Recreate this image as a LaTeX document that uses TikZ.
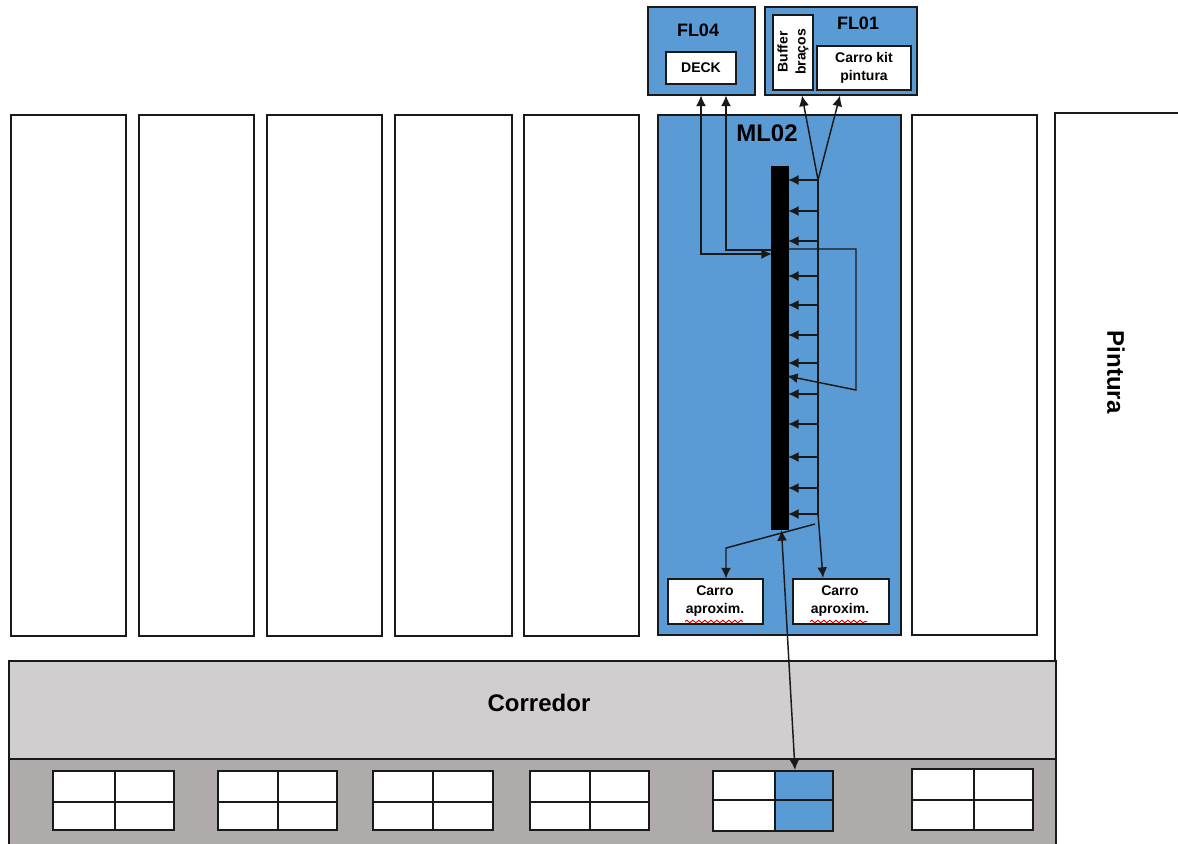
\documentclass[tikz,border=0pt]{standalone}
\usepackage{fontspec}
\setmainfont{Liberation Sans}
\usetikzlibrary{arrows.meta,calc,decorations.pathmorphing}
\definecolor{mlblue}{HTML}{5B9BD5}
\definecolor{corr}{HTML}{D0CECE}
\definecolor{band}{HTML}{AFABAB}
\newcommand{\pxbox}[7][]{%
  \pgfmathsetmacro{\pxw}{(#5-#3)*0.75}%
  \pgfmathsetmacro{\pxh}{(#6-#4)*0.75}%
  \pgfmathsetmacro{\pxx}{(#3+#5)/2}%
  \pgfmathsetmacro{\pxy}{(#4+#6)/2}%
  \node[plainbox,#1,minimum width=\pxw pt,minimum height=\pxh pt] (#2) at (\pxx,\pxy) {#7};}
\newcommand{\pxgrid}[7]{% name x1 y1 x2 y2 xm ym
  \fill[white] (#2,#3) rectangle (#4,#5);
  \draw[gridline] (#2,#3) rectangle (#4,#5) (#6,#3) -- (#6,#5) (#2,#7) -- (#4,#7);
  \coordinate (#1) at (#6,#7);}
\tikzset{
  x=0.75pt,y=-0.75pt,
  plainbox/.style={draw=black!90,line width=1.1pt,fill=white,inner sep=0pt,outer sep=0pt,align=center,text=black},
  bluebox/.style={fill=mlblue},
  gridline/.style={draw=black!90,line width=1.2pt},
  conn/.style={draw=black!90,line width=1.1pt},
  arr/.style={conn,-{Latex[length=8pt,width=7.5pt]}},
  darr/.style={conn,{Latex[length=8pt,width=7.5pt]}-{Latex[length=8pt,width=7.5pt]}},
  big/.style={font=\bfseries\fontsize{18}{20}\selectfont},
  mid/.style={font=\bfseries\fontsize{13.5}{15}\selectfont},
  small/.style={font=\bfseries\fontsize{10.5}{13.5}\selectfont},
  lab/.style={font=\bfseries\fontsize{10.5}{14}\selectfont,align=center},
  squig/.style={draw=red!85!black,line width=0.7pt,decorate,decoration={snake,amplitude=1pt,segment length=4.5pt}}
}
\begin{document}
\begin{tikzpicture}
\clip (0,0) rectangle (1178,843);
\fill[white] (0,0) rectangle (1178,843);
% white columns
\pxbox{c1}{11}{115}{126}{636}{}
\pxbox{c2}{139}{115}{254}{636}{}
\pxbox{c3}{267}{115}{382}{636}{}
\pxbox{c4}{395}{115}{512}{636}{}
\pxbox{c5}{524}{115}{639}{636}{}
\pxbox{c7}{912}{115}{1037}{635}{}
\pxbox[bluebox]{ml}{658}{115}{901}{635}{}
\node[big] (mllabel) at (767,133) {ML02};
% paint
\pxbox{pint}{1055}{113}{1200}{870}{}
\node[big,rotate=-90] (pintlabel) at (1116,372) {Pintura};
% corridor and bottom band
\pxbox[fill=corr]{corredor}{9}{661}{1056}{759}{}
\node[big] (corlabel) at (539,703) {Corredor};
\pxbox[fill=band]{bottom}{9}{759}{1056}{870}{}
% grids
\pxgrid{g1}{53}{771}{174}{830}{115}{802}
\pxgrid{g2}{218}{771}{337}{830}{278}{802}
\pxgrid{g3}{373}{771}{493}{830}{433}{802}
\pxgrid{g4}{530}{771}{649}{830}{590}{802}
\pxgrid{g6}{912}{769}{1033}{830}{974}{800}
\fill[white] (713,771) rectangle (775,831);
\fill[mlblue] (775,771) rectangle (833,831);
\draw[gridline] (713,771) rectangle (833,831) (775,771) -- (775,831) (713,800) -- (833,800);
\coordinate (gridtarget) at (795,770);
% FL boxes
\pxbox[bluebox]{fl4}{648}{7}{755}{95}{}
\node[mid] (fl4label) at (698,30) {FL04};
\pxbox{deck}{666}{52}{736}{84}{}
\node[lab] (decklabel) at (701,68) {DECK};
\pxbox[bluebox]{fl1}{765}{7}{917}{95}{}
\node[mid] (fl1label) at (858,23) {FL01};
\pxbox{buffer}{773}{15}{813}{90}{}
\node[small,rotate=90,align=center] (bufferlabel) at (793,52) {Buffer\\braços};
\pxbox{kit}{817}{46}{911}{90}{}
\node[lab] (kitlabel) at (864,68) {Carro kit\\pintura};
% approach carts
\pxbox{ca1}{668}{579}{763}{624}{}
\node[lab] (ca1label) at (715,601) {Carro\\aproxim.};
\pxbox{ca2}{793}{579}{889}{624}{}
\node[lab] (ca2label) at (840,601) {Carro\\aproxim.};
\draw[squig] (685,621.5) -- (743,621.5);
\draw[squig] (810,621.5) -- (867,621.5);
% bar
\pxbox[fill=black,draw=black]{bar}{772}{167}{788}{529}{}
% spine
\foreach \n/\yy in {1/180,2/211,3/241,4/276,5/305,6/335,7/363,8/394,9/424,10/457,11/488,12/514}{
  \coordinate (s\n) at (818,\yy);
}
\draw[conn] (s1) -- (s12);
\foreach \n in {1,...,12}{
  \draw[arr] (s\n) -- (s\n -| bar.east);
}
% to FL01
\coordinate (tbuf) at (802,95.5);
\coordinate (tkit) at (840,95.5);
\draw[arr] (s1) -- (tbuf);
\draw[arr] (s1) -- (tkit);
% FL04 links
\coordinate (j1) at (701,254);
\coordinate (j2) at (726,250);
\coordinate (t1) at (701,95.5);
\coordinate (t2) at (726,95.5);
\draw[darr] (bar.west |- j1) -- (j1) -- (t1);
\draw[arr] (bar.west |- j2) -- (j2) -- (t2);
% right loop
\coordinate (l1) at (856,249);
\coordinate (l2) at (856,390);
\coordinate (l3) at (787,376);
\draw[arr] (bar.east |- l1) -- (l1) -- (l2) -- (l3);
% bottom branches
\coordinate (b0) at (815,524);
\coordinate (b1) at (726,548);
\coordinate (b2) at (726,578.5);
\draw[arr] (b0) -- (b1) -- (b2);
\coordinate (t3) at (823,578);
\draw[arr] (s12) -- (t3);
% long arrow
\coordinate (barend) at (781.5,530);
\draw[darr] (barend) -- (gridtarget);
\end{tikzpicture}
\end{document}
